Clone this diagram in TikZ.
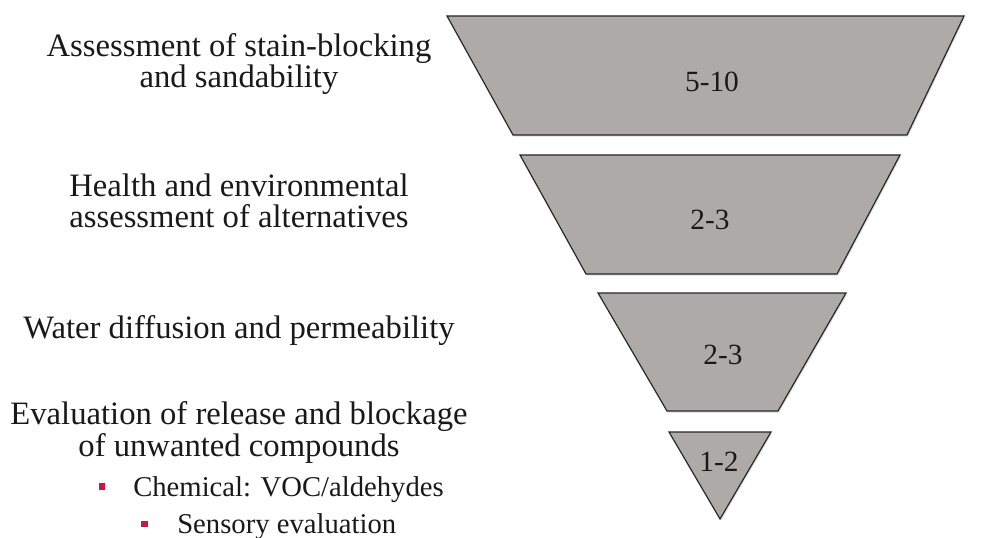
\documentclass[tikz,border=0pt]{standalone}
\usepackage{fontspec}
\setmainfont{Liberation Serif}
\newfontfamily\stepfont{Liberation Serif}
\usepackage{tikz}
\usetikzlibrary{positioning}
\usetikzlibrary{shadows}
\definecolor{funnelgray}{RGB}{174,170,169}
\definecolor{edgegray}{RGB}{40,40,40}
\definecolor{bulletred}{RGB}{200,25,65}
\definecolor{textblack}{RGB}{25,25,25}
\tikzset{funnel part/.style={fill=funnelgray,draw=edgegray,line width=0.9pt,line join=miter,
    drop shadow={shadow xshift=0.8pt,shadow yshift=-1.2pt,opacity=0.25}},
  step label/.style={font=\stepfont\fontsize{24.5}{23.5}\selectfont,text=textblack,align=center,anchor=base,inner sep=0pt},
  sub label/.style={font=\stepfont\fontsize{21.5}{24}\selectfont,text=textblack,anchor=base west,inner sep=0pt},
  count label/.style={font=\stepfont\fontsize{22}{24}\selectfont,text=textblack,inner sep=0pt},
  bullet mark/.style={fill=bulletred,minimum size=5.2pt,inner sep=0pt},}
\begin{document}
\begin{tikzpicture}[x=0.75pt,y=-0.75pt]
    \useasboundingbox (0,0) rectangle (987,538);

    % funnel
    \path[funnel part] (447,16) -- (964,16) -- (907,135) -- (513,135) -- cycle;
    \path[funnel part] (520,155) -- (900,155) -- (837,274) -- (586,274) -- cycle;
    \path[funnel part] (598,293) -- (846,293) -- (778,411) -- (667,411) -- cycle;
    \path[funnel part] (669,432) -- (771,432) -- (720,519) -- cycle;

    \node[count label] (c1) at (712,82) {5-10};
    \node[count label] (c2) at (710,220) {2-3};
    \node[count label] (c3) at (723,355) {2-3};
    \node[count label] (c4) at (719,462) {1-2};

    % steps (base = last line)
    \node[step label] (s1) at (239,88) {Assessment of stain-blocking\\and sandability};
    \node[step label] (s2) at (239,228) {Health and environmental\\assessment of alternatives};
    \node[step label] (s3) at (239,338) {Water diffusion and permeability};
    \node[step label] (s4) at (239,456) {Evaluation of release and blockage\\of unwanted compounds};

    \node[bullet mark] (b1) at (102,486.5) {};
    \node[sub label] (t1) at (133,496) {Chemical: VOC/aldehydes};
    \node[bullet mark] (b2) at (144.5,524) {};
    \node[sub label] (t2) at (177,533) {Sensory evaluation};
\end{tikzpicture}
\end{document}
